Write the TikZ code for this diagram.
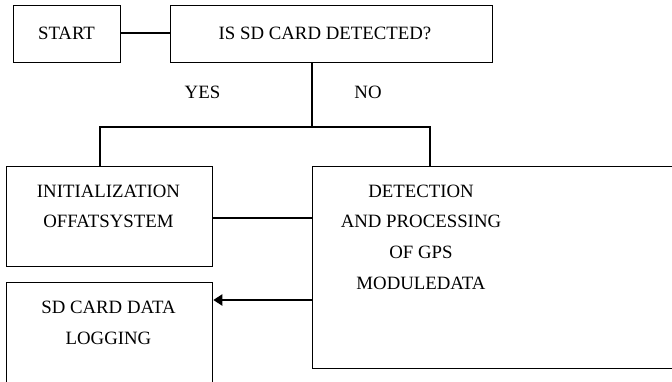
\documentclass[tikz,border=0pt]{standalone}
\usepackage{fontspec}
\setmainfont{Liberation Serif}
\usetikzlibrary{arrows.meta}
\begin{document}
\begin{tikzpicture}[x=1pt,y=-1pt,
  box/.style={draw=black,line width=1.3pt,fill=none},
  label/.style={inner sep=0pt,align=center,font=\fontsize{18.8}{30.8}\selectfont},
  link/.style={draw=black,line width=1.3pt},
  flow/.style={draw=black,line width=2pt,-{Triangle[length=9pt,width=11pt]}}]
\useasboundingbox (0,0) rectangle (672,381);
\fill[white] (0,0) rectangle (672,381);
\clip (0,0) rectangle (672,381);

% boxes
\node[box,minimum width=107pt,minimum height=57pt,anchor=north west] (start) at (13,5) {};
\node[box,minimum width=322pt,minimum height=57pt,anchor=north west] (sd) at (170,5) {};
\node[box,minimum width=206pt,minimum height=100pt,anchor=north west] (init) at (6,166) {};
\node[box,minimum width=390pt,minimum height=202pt,anchor=north west] (gps) at (312,166) {};
\node[box,minimum width=206pt,minimum height=130pt,anchor=north west] (log) at (6,282) {};

% box texts
\node[label] (tstart) at (66.5,33) {START};
\node[label] (tsd) at (325,33) {IS SD CARD DETECTED?};
\node[label,anchor=north] (tinit) at (108.5,184.5) {INITIALIZATION\\OFFATSYSTEM};
\node[label,anchor=north] (tgps) at (421,184.5) {DETECTION\\AND PROCESSING\\OF GPS\\MODULEDATA};
\node[label,anchor=north] (tlog) at (108.5,301) {SD CARD DATA\\LOGGING};

% branch labels
\node[label] (yes) at (202.5,92.5) {YES};
\node[label] (no) at (368,92.5) {NO};

% connectors
\coordinate (split) at (312,127);
\draw[link] (start.east |- 0,33) -- (sd.west |- 0,33);
\draw[link] (sd.south -| split) -- (split);
\draw[link] (init.north -| 100,0) -- (100,127) -- (430,127) -- (gps.north -| 430,0);
\draw[link] (init.east |- 0,218) -- (gps.west |- 0,218);
\draw[flow] (gps.west |- 0,300) -- (log.east |- 0,300);
\end{tikzpicture}
\end{document}
